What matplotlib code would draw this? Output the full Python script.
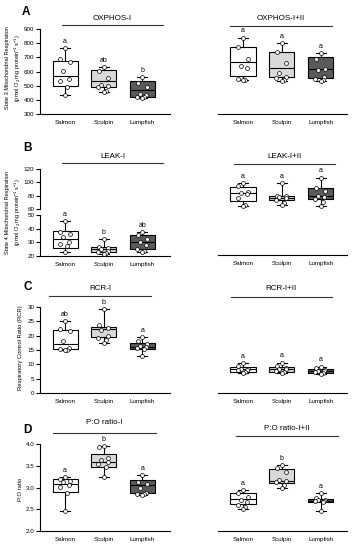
import matplotlib
matplotlib.use("Agg")
import matplotlib.pyplot as plt
from matplotlib.lines import Line2D
import numpy as np

plt.rcParams['font.family'] = ['Liberation Sans', 'DejaVu Sans']
plt.rcParams['mathtext.fontset'] = 'custom'
plt.rcParams['mathtext.rm'] = 'Liberation Sans'
plt.rcParams['mathtext.it'] = 'Liberation Sans:italic'

# ---------------- data ----------------
groups = ['Salmon', 'Sculpin', 'Lumpfish']
box_colors = ['#ffffff', '#d9d9d9', '#5a5a5a']

# box stats: [min, q1, median, q3, max]
oxphos_i_box = [[434, 500, 570, 676, 764], [453, 488, 533, 611, 634], [415, 422, 469, 535, 563]]
oxphos_i_pts = [[764, 686, 665, 604, 549, 535, 488, 434], [634, 604, 554, 505, 498, 490, 464, 453],
                [563, 521, 488, 441, 432, 422, 418, 415]]
oxphos_i_sig = ['a', 'ab', 'b']

oxphos_i_ii_box = [[540, 568, 665, 775, 839], [535, 559, 623, 736, 799], [533, 557, 618, 700, 728]]
oxphos_i_ii_pts = [[839, 775, 688, 641, 623, 547, 543, 540], [799, 736, 658, 587, 560, 552, 540, 535],
                   [728, 686, 620, 610, 560, 545, 538, 533]]
oxphos_i_ii_sig = ['a', 'a', 'a']

leak_i_box = [[23.2, 26, 32.4, 38.5, 45.8], [21.5, 22.7, 24.9, 26.8, 32.2], [22.7, 24.9, 30.5, 35.4, 37.3]]
leak_i_pts = [[45.8, 37.8, 35.9, 34.1, 30.5, 29, 27.3, 23.2], [32.2, 26.8, 26, 25, 24, 23, 22, 21.5],
              [37.3, 35.4, 32.2, 30.5, 28, 25, 23.5, 22.7]]
leak_i_sig = ['a', 'b', 'ab']

leak_i_ii_box = [[64.5, 72, 83.5, 93.5, 98.5], [66, 73, 77, 79.5, 98.5], [65, 74.5, 79.5, 91, 107]]
leak_i_ii_pts = [[98.5, 94, 85, 84, 82, 77, 66, 64.5], [98.5, 80, 79, 78, 77, 74, 69.5, 66],
                 [107, 92, 87, 80, 78, 75, 70, 65]]
leak_i_ii_sig = ['a', 'a', 'a']

rcr_i_box = [[14.9, 15.3, 17.1, 22, 25.2], [17.3, 19.4, 22.2, 23.1, 29.2], [13, 15.3, 16.2, 17.3, 19.6]]
rcr_i_pts = [[25.2, 22.3, 21.6, 18.2, 15.7, 15.3, 15.1, 14.9], [29.2, 23.7, 22.6, 22.0, 20, 19.1, 18.5, 17.3],
             [19.6, 18.1, 17, 16.5, 16.2, 15.8, 15.3, 13]]
rcr_i_sig = ['ab', 'b', 'a']

rcr_i_ii_box = [[6.9, 7.4, 8.3, 9.2, 10.4], [6.9, 7.4, 8.4, 9.2, 10.6], [6.6, 7.1, 7.7, 8.4, 9.2]]
rcr_i_ii_pts = [[10.4, 9.5, 8.5, 8.3, 8.1, 8.0, 7.5, 6.9], [10.6, 9.3, 8.8, 8.5, 8.3, 7.8, 7.4, 7.0],
                [9.2, 8.6, 8.0, 7.8, 7.6, 7.3, 7.0, 6.6]]
rcr_i_ii_sig = ['a', 'a', 'a']

po_i_box = [[2.46, 2.90, 3.08, 3.19, 3.23], [3.25, 3.48, 3.58, 3.76, 3.96], [2.83, 2.87, 3.06, 3.17, 3.29]]
po_i_pts = [[3.23, 3.20, 3.15, 3.12, 3.06, 3.01, 2.87, 2.46], [3.96, 3.92, 3.67, 3.63, 3.58, 3.55, 3.48, 3.25],
            [3.29, 3.12, 3.08, 3.0, 2.87, 2.85, 2.84, 2.83]]
po_i_sig = ['a', 'b', 'a']

po_i_ii_box = [[2.51, 2.61, 2.73, 2.87, 2.94], [3.0, 3.10, 3.15, 3.42, 3.52], [2.46, 2.66, 2.69, 2.73, 2.87]]
po_i_ii_pts = [[2.94, 2.87, 2.79, 2.72, 2.66, 2.60, 2.55, 2.51], [3.52, 3.45, 3.35, 3.18, 3.15, 3.12, 3.05, 3.0],
               [2.87, 2.75, 2.72, 2.71, 2.69, 2.68, 2.66, 2.46]]
po_i_ii_sig = ['a', 'b', 'a']

# ---------------- figure ----------------
W, H = 353, 550
fig = plt.figure(figsize=(W / 100, H / 100), dpi=100)


def rect(x0, y0, x1, y1):
    return [x0 / W, 1 - y1 / H, (x1 - x0) / W, (y1 - y0) / H]


def fx(x):
    return x / W


def fy(y):
    return 1 - y / H


jit = [0.0, -0.12, 0.12, -0.06, 0.1, -0.14, 0.05, 0.0]
pos = [1, 2, 3]
TICK_FS = 4.5


def draw_boxes(ax, box, pts, sig, show_letters=True):
    stats = []
    for i, b in enumerate(box):
        stats.append(dict(whislo=b[0], q1=b[1], med=b[2], q3=b[3], whishi=b[4], fliers=[]))
    bp = ax.bxp(stats, positions=pos, widths=0.65, capwidths=0.26, patch_artist=True,
                showfliers=False,
                boxprops=dict(linewidth=0.8, edgecolor='black'),
                medianprops=dict(color='black', linewidth=0.8),
                whiskerprops=dict(color='black', linewidth=0.8),
                capprops=dict(color='black', linewidth=0.8))
    for patch, c in zip(bp['boxes'], box_colors):
        patch.set_facecolor(c)
    for i, p in enumerate(pts):
        xs = [pos[i] + jit[k % len(jit)] for k in range(len(p))]
        ax.plot(xs, p, 'o', ms=2.8, mfc='white', mec='black', mew=0.5, zorder=5, clip_on=False)
    if show_letters:
        for i, s in enumerate(sig):
            ax.annotate(s, (pos[i], box[i][4]), xytext=(0, 4.8), textcoords='offset points',
                        ha='center', va='center', fontsize=5)


def style_left(ax, ylim, yticks, fmt=None, xlabels=True):
    ax.set_xlim(0.35, 3.72)
    ax.set_ylim(*ylim)
    ax.set_yticks(yticks)
    if fmt:
        ax.set_yticklabels([fmt % t for t in yticks])
    for s in ['top', 'right']:
        ax.spines[s].set_visible(False)
    for s in ['left', 'bottom']:
        ax.spines[s].set_linewidth(0.8)
    ax.tick_params(axis='y', length=3, width=0.8, pad=1, labelsize=TICK_FS)
    ax.set_xticks(pos)
    if xlabels:
        ax.set_xticklabels(groups)
    else:
        ax.set_xticklabels([])
    ax.tick_params(axis='x', length=0, pad=4, labelsize=TICK_FS)
    ax.patch.set_alpha(0)


def style_right(ax, ylim):
    ax.set_xlim(0.355, 3.68)
    ax.set_ylim(*ylim)
    for s in ['top', 'right', 'left']:
        ax.spines[s].set_visible(False)
    ax.spines['bottom'].set_linewidth(0.8)
    ax.set_yticks([])
    ax.set_xticks(pos)
    ax.set_xticklabels(groups)
    ax.tick_params(axis='x', length=0, pad=4, labelsize=TICK_FS)
    ax.patch.set_alpha(0)


def title(text, x0, x1, yline, ytext):
    fig.add_artist(Line2D([fx(x0), fx(x1)], [fy(yline), fy(yline)], color='#333333', lw=0.8,
                          transform=fig.transFigure))
    fig.text(fx((x0 + x1) / 2), fy(ytext), text, ha='center', va='center', fontsize=5.8)


unit_lbl = '(pmol O$\\mathregular{_2}$ mg protein$\\mathregular{^{-1}}$ s$\\mathregular{^{-1}}$)'

# ---- Panel A ----
ax = fig.add_axes(rect(40, 29, 170, 114))
draw_boxes(ax, oxphos_i_box, oxphos_i_pts, oxphos_i_sig)
style_left(ax, (300, 900), list(range(300, 901, 100)))
ax = fig.add_axes(rect(218, 29, 347, 114))
draw_boxes(ax, oxphos_i_ii_box, oxphos_i_ii_pts, oxphos_i_ii_sig)
style_right(ax, (300, 900))
title('OXPHOS-I', 62, 163, 25, 18)
title('OXPHOS-I+II', 230, 332, 26, 19)
fig.text(fx(26), fy(12), 'A', fontsize=8.5, fontweight='bold', ha='center', va='center')
fig.text(fx(14), fy(68), 'State 3 Mitochondrial Respiration\n' + unit_lbl, rotation=90,
         ha='center', va='center', fontsize=4.1, linespacing=1.4, multialignment='center')

# ---- Panel B ----
axt = fig.add_axes(rect(40, 169, 170, 209))
style_left(axt, (60, 120), [60, 80, 100, 120], xlabels=False)
axt.spines['bottom'].set_visible(False)
axb = fig.add_axes(rect(40, 215, 170, 256))
draw_boxes(axb, leak_i_box, leak_i_pts, leak_i_sig)
style_left(axb, (20, 50), [20, 30, 40, 50])
ax = fig.add_axes(rect(218, 169, 347, 255))
draw_boxes(ax, leak_i_ii_box, leak_i_ii_pts, leak_i_ii_sig)
style_right(ax, (-9, 120))
title('LEAK-I', 62, 163, 163, 156)
title('LEAK-I+II', 234, 335, 164, 157)
fig.text(fx(28), fy(148), 'B', fontsize=8.5, fontweight='bold', ha='center', va='center')
fig.text(fx(14), fy(212), 'State 4 Mitochondrial Respiration\n' + unit_lbl, rotation=90,
         ha='center', va='center', fontsize=4.1, linespacing=1.4, multialignment='center')

# ---- Panel C ----
ax = fig.add_axes(rect(40, 307, 170, 393))
draw_boxes(ax, rcr_i_box, rcr_i_pts, rcr_i_sig)
style_left(ax, (0, 30), list(range(0, 31, 5)))
ax = fig.add_axes(rect(218, 307, 347, 393))
draw_boxes(ax, rcr_i_ii_box, rcr_i_ii_pts, rcr_i_ii_sig)
style_right(ax, (0, 30))
title('RCR-I', 49, 151, 296, 288)
title('RCR-I+II', 231, 332, 297, 288)
fig.text(fx(28), fy(287), 'C', fontsize=8.5, fontweight='bold', ha='center', va='center')
fig.text(fx(21), fy(348), 'Respiratory Control Ratio (RCR)', rotation=90,
         ha='center', va='center', fontsize=4.2)

# ---- Panel D ----
ax = fig.add_axes(rect(40, 444, 170, 531))
draw_boxes(ax, po_i_box, po_i_pts, po_i_sig)
style_left(ax, (2.0, 4.0), [2.0, 2.5, 3.0, 3.5, 4.0], fmt='%.1f')
ax = fig.add_axes(rect(218, 444, 347, 531))
draw_boxes(ax, po_i_ii_box, po_i_ii_pts, po_i_ii_sig)
style_right(ax, (2.0, 4.0))
title('P:O ratio-I', 53, 156, 433, 423)
title('P:O ratio-I+II', 236, 338, 436, 428)
fig.text(fx(27), fy(430), 'D', fontsize=8.5, fontweight='bold', ha='center', va='center')
fig.text(fx(21), fy(489), 'P:O ratio', rotation=90, ha='center', va='center', fontsize=4.2)

fig.savefig('out.png', dpi=100)
